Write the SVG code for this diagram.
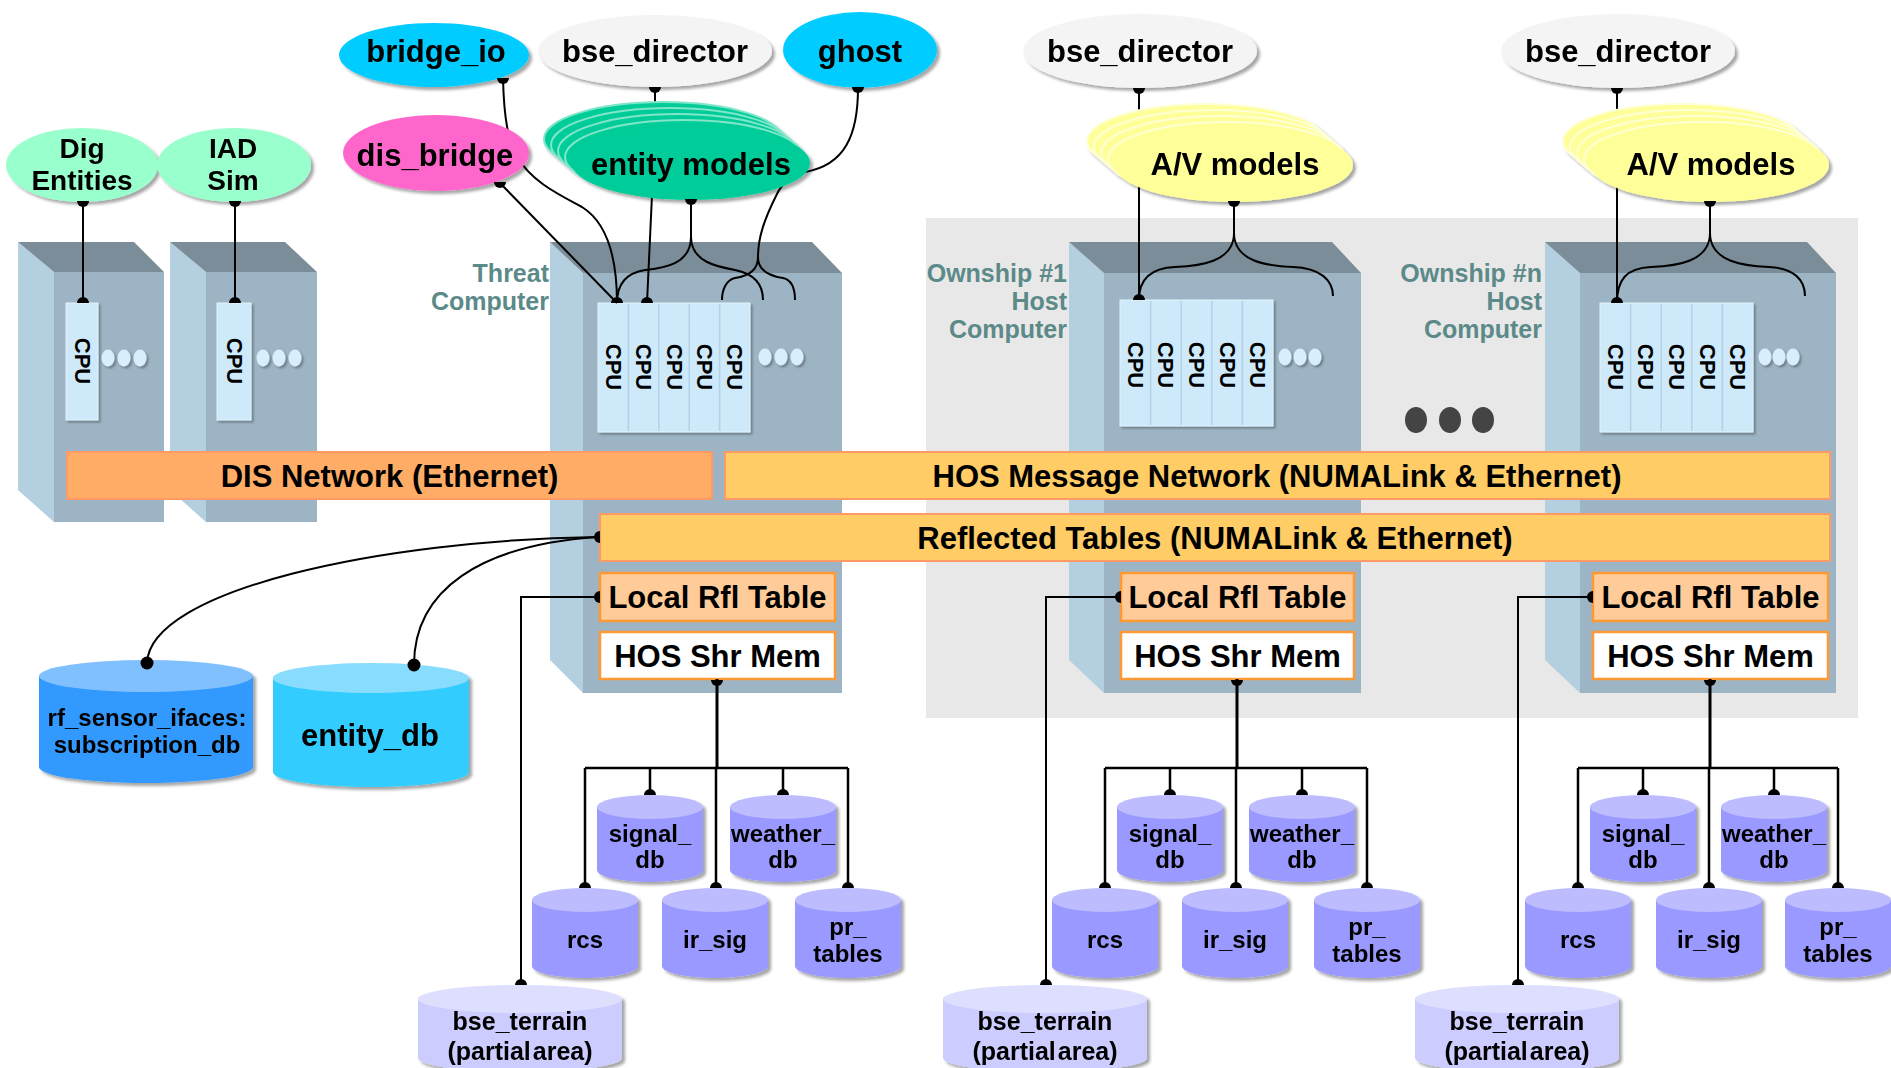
<svg xmlns="http://www.w3.org/2000/svg" width="1891" height="1068" viewBox="0 0 1891 1068">
<defs>
<filter id="ds" x="-10%" y="-10%" width="130%" height="140%"><feDropShadow dx="3" dy="3" stdDeviation="1.5" flood-color="#000" flood-opacity="0.35"/></filter>
<filter id="ds2" x="-10%" y="-10%" width="130%" height="130%"><feDropShadow dx="2" dy="2" stdDeviation="1" flood-color="#000" flood-opacity="0.3"/></filter>
</defs>
<style>
text{font-family:"Liberation Sans",Arial,sans-serif;font-weight:bold;text-anchor:middle;fill:#000}
.f31{font-size:31px}.f28{font-size:28px}.f25{font-size:25px}.f24{font-size:24px}.f22{font-size:22px}
.lbl{font-size:25px;fill:#5b8a89;text-anchor:end}
.tt{fill:#7b8d98}.tl{fill:#b3cfe0}.tf{fill:#9db4c4}
.cpu{fill:#cde9fa;stroke:#e4f3fc;stroke-width:1}
.sep{stroke:#b2d2e6;stroke-width:1.5}
.sd{fill:#d8eefc}
.bar1{fill:#ffad66;stroke:#ff9966;stroke-width:2}
.bar2{fill:#ffcc66;stroke:#ff9966;stroke-width:2}
.lrt{fill:#ffcc99;stroke:#ff9933;stroke-width:2.5}
.hsm{fill:#fff;stroke:#ff9933;stroke-width:2.5}
.c{fill:none;stroke:#000;stroke-width:2}
.c3{fill:none;stroke:#000;stroke-width:3}
.d{fill:#000}
.db{fill:#9999ff}.dbt{fill:#bcbcff}
.bt{fill:#ccccff}.btt{fill:#dedeff}
.em{fill:#00cc99;stroke:#7fe6c9;stroke-width:2}
.av{fill:#ffff99;stroke:#ffffd6;stroke-width:2}
</style>

<rect id="ownship_panel" x="926" y="218" width="932" height="500" fill="#e8e8e8"/>

<!-- towers -->
<g id="dig_computer">
<polygon class="tl" points="18,242 54,272 54,522 18,490"/>
<polygon class="tt" points="18,242 134,242 164,272 54,272"/>
<rect class="tf" x="54" y="272" width="110" height="250"/>
<rect class="cpu" x="66" y="303" width="32" height="117" filter="url(#ds2)"/>
<text class="f22" transform="translate(82,361) rotate(90)" dominant-baseline="central">CPU</text>
<g class="sd" filter="url(#ds2)"><ellipse cx="108" cy="358" rx="6.5" ry="8.5"/><ellipse cx="124" cy="358" rx="6.5" ry="8.5"/><ellipse cx="140" cy="358" rx="6.5" ry="8.5"/></g>
</g>
<g id="iad_computer">
<polygon class="tl" points="170,242 206,272 206,522 170,490"/>
<polygon class="tt" points="170,242 285,242 317,272 206,272"/>
<rect class="tf" x="206" y="272" width="111" height="250"/>
<rect class="cpu" x="217" y="303" width="34" height="117" filter="url(#ds2)"/>
<text class="f22" transform="translate(234,361) rotate(90)" dominant-baseline="central">CPU</text>
<g class="sd" filter="url(#ds2)"><ellipse cx="263" cy="358" rx="6.5" ry="8.5"/><ellipse cx="279" cy="358" rx="6.5" ry="8.5"/><ellipse cx="295" cy="358" rx="6.5" ry="8.5"/></g>
</g>
<g id="threat_computer">
<polygon class="tl" points="550,242 583,273 583,693 550,660"/>
<polygon class="tt" points="550,242 812,242 842,273 583,273"/>
<rect class="tf" x="583" y="273" width="259" height="420"/>
<rect class="cpu" x="598" y="303" width="152" height="129" filter="url(#ds2)"/>
<g class="sep"><line x1="628.4" y1="304" x2="628.4" y2="431"/><line x1="658.8" y1="304" x2="658.8" y2="431"/><line x1="689.2" y1="304" x2="689.2" y2="431"/><line x1="719.6" y1="304" x2="719.6" y2="431"/></g>
<g class="f22">
<text class="f22" transform="translate(613,367) rotate(90)" dominant-baseline="central">CPU</text>
<text class="f22" transform="translate(643.6,367) rotate(90)" dominant-baseline="central">CPU</text>
<text class="f22" transform="translate(674,367) rotate(90)" dominant-baseline="central">CPU</text>
<text class="f22" transform="translate(704.4,367) rotate(90)" dominant-baseline="central">CPU</text>
<text class="f22" transform="translate(734.8,367) rotate(90)" dominant-baseline="central">CPU</text>
</g>
<g class="sd" filter="url(#ds2)"><ellipse cx="765" cy="357" rx="6.5" ry="8.5"/><ellipse cx="781" cy="357" rx="6.5" ry="8.5"/><ellipse cx="797" cy="357" rx="6.5" ry="8.5"/></g>
<text class="lbl" x="549" y="282">Threat</text>
<text class="lbl" x="549" y="310">Computer</text>
</g>
<g id="ownship1_computer">
<polygon class="tl" points="1069,242 1104,273 1104,693 1069,660"/>
<polygon class="tt" points="1069,242 1332,242 1361,273 1104,273"/>
<rect class="tf" x="1104" y="273" width="257" height="420"/>
<rect class="cpu" x="1120" y="300" width="153" height="126" filter="url(#ds2)"/>
<g class="sep"><line x1="1150.6" y1="301" x2="1150.6" y2="425"/><line x1="1181.2" y1="301" x2="1181.2" y2="425"/><line x1="1211.8" y1="301" x2="1211.8" y2="425"/><line x1="1242.4" y1="301" x2="1242.4" y2="425"/></g>
<text class="f22" transform="translate(1135.3,365) rotate(90)" dominant-baseline="central">CPU</text>
<text class="f22" transform="translate(1165.9,365) rotate(90)" dominant-baseline="central">CPU</text>
<text class="f22" transform="translate(1196.5,365) rotate(90)" dominant-baseline="central">CPU</text>
<text class="f22" transform="translate(1227.1,365) rotate(90)" dominant-baseline="central">CPU</text>
<text class="f22" transform="translate(1257.7,365) rotate(90)" dominant-baseline="central">CPU</text>
<g class="sd" filter="url(#ds2)"><ellipse cx="1285" cy="357" rx="6.5" ry="8.5"/><ellipse cx="1300" cy="357" rx="6.5" ry="8.5"/><ellipse cx="1315" cy="357" rx="6.5" ry="8.5"/></g>
<text class="lbl" x="1067" y="282">Ownship #1</text>
<text class="lbl" x="1067" y="310">Host</text>
<text class="lbl" x="1067" y="338">Computer</text>
</g>
<g id="ownshipn_computer">
<polygon class="tl" points="1545,242 1580,273 1580,693 1545,660"/>
<polygon class="tt" points="1545,242 1807,242 1836,273 1580,273"/>
<rect class="tf" x="1580" y="273" width="256" height="420"/>
<rect class="cpu" x="1600" y="303" width="153" height="129" filter="url(#ds2)"/>
<g class="sep"><line x1="1630.6" y1="304" x2="1630.6" y2="431"/><line x1="1661.2" y1="304" x2="1661.2" y2="431"/><line x1="1691.8" y1="304" x2="1691.8" y2="431"/><line x1="1722.4" y1="304" x2="1722.4" y2="431"/></g>
<text class="f22" transform="translate(1615.3,367) rotate(90)" dominant-baseline="central">CPU</text>
<text class="f22" transform="translate(1645.9,367) rotate(90)" dominant-baseline="central">CPU</text>
<text class="f22" transform="translate(1676.5,367) rotate(90)" dominant-baseline="central">CPU</text>
<text class="f22" transform="translate(1707.1,367) rotate(90)" dominant-baseline="central">CPU</text>
<text class="f22" transform="translate(1737.7,367) rotate(90)" dominant-baseline="central">CPU</text>
<g class="sd" filter="url(#ds2)"><ellipse cx="1765" cy="357" rx="6.5" ry="8.5"/><ellipse cx="1779" cy="357" rx="6.5" ry="8.5"/><ellipse cx="1793" cy="357" rx="6.5" ry="8.5"/></g>
<text class="lbl" x="1542" y="282">Ownship #n</text>
<text class="lbl" x="1542" y="310">Host</text>
<text class="lbl" x="1542" y="338">Computer</text>
</g>
<g id="ellipsis_dots" fill="#444"><ellipse cx="1416" cy="420" rx="11" ry="13"/><ellipse cx="1450" cy="420" rx="11" ry="13"/><ellipse cx="1483" cy="420" rx="11" ry="13"/></g>

<!-- networks and tables -->
<g id="dis_network"><rect class="bar1" x="67" y="452" width="645" height="47"/><text class="f31" x="389.5" y="487">DIS Network (Ethernet)</text></g>
<g id="hos_message_network"><rect class="bar2" x="725" y="452" width="1105" height="47"/><text class="f31" x="1277" y="487">HOS Message Network (NUMALink &amp; Ethernet)</text></g>
<g id="reflected_tables"><rect class="bar2" x="600" y="514" width="1230" height="47"/><text class="f31" x="1215" y="549">Reflected Tables (NUMALink &amp; Ethernet)</text></g>
<g id="threat_local_rfl"><rect class="lrt" x="600" y="573" width="235" height="48"/><text class="f31" x="717.5" y="608">Local Rfl Table</text></g>
<g id="threat_hos_shr_mem"><rect class="hsm" x="600" y="632" width="235" height="47"/><text class="f31" x="717.5" y="667">HOS Shr Mem</text></g>
<g id="own1_local_rfl"><rect class="lrt" x="1121" y="573" width="233" height="48"/><text class="f31" x="1237.5" y="608">Local Rfl Table</text></g>
<g id="own1_hos_shr_mem"><rect class="hsm" x="1121" y="632" width="233" height="47"/><text class="f31" x="1237.5" y="667">HOS Shr Mem</text></g>
<g id="ownn_local_rfl"><rect class="lrt" x="1593" y="573" width="235" height="48"/><text class="f31" x="1710.5" y="608">Local Rfl Table</text></g>
<g id="ownn_hos_shr_mem"><rect class="hsm" x="1593" y="632" width="235" height="47"/><text class="f31" x="1710.5" y="667">HOS Shr Mem</text></g>

<!-- databases -->
<g id="rf_sensor_db" filter="url(#ds)"><path d="M39,676 V767 A107,16 0 0 0 253,767 V676 Z" fill="#3399ff"/><ellipse cx="146" cy="676" rx="107" ry="16" fill="#80c0ff"/><text class="f24" x="147" y="726">rf_sensor_ifaces:</text><text class="f24" x="147" y="753">subscription_db</text></g>
<g id="entity_db" filter="url(#ds)"><path d="M273,678 V772 A98,15 0 0 0 469,772 V678 Z" fill="#33ccff"/><ellipse cx="371" cy="678" rx="98" ry="15" fill="#88ddff"/><text class="f31" x="370" y="746">entity_db</text></g>

<g id="threat_signal_db" filter="url(#ds)"><path class="db" d="M597,807 V870 A53,12 0 0 0 703,870 V807 Z"/><ellipse class="dbt" cx="650" cy="807" rx="53" ry="12"/><text class="f24" x="650" y="842">signal_</text><text class="f24" x="650" y="868">db</text></g>
<g id="threat_weather_db" filter="url(#ds)"><path class="db" d="M730,807 V870 A53,12 0 0 0 836,870 V807 Z"/><ellipse class="dbt" cx="783" cy="807" rx="53" ry="12"/><text class="f24" x="783" y="842">weather_</text><text class="f24" x="783" y="868">db</text></g>
<g id="threat_rcs" filter="url(#ds)"><path class="db" d="M532,900 V966 A53,12 0 0 0 638,966 V900 Z"/><ellipse class="dbt" cx="585" cy="900" rx="53" ry="12"/><text class="f24" x="585" y="948">rcs</text></g>
<g id="threat_ir_sig" filter="url(#ds)"><path class="db" d="M662,900 V966 A53,12 0 0 0 768,966 V900 Z"/><ellipse class="dbt" cx="715" cy="900" rx="53" ry="12"/><text class="f24" x="715" y="948">ir_sig</text></g>
<g id="threat_pr_tables" filter="url(#ds)"><path class="db" d="M795,900 V966 A53,12 0 0 0 901,966 V900 Z"/><ellipse class="dbt" cx="848" cy="900" rx="53" ry="12"/><text class="f24" x="848" y="935">pr_</text><text class="f24" x="848" y="962">tables</text></g>
<g id="threat_bse_terrain" filter="url(#ds)"><path class="bt" d="M418,999 V1058 A102,14 0 0 0 622,1058 V999 Z"/><ellipse class="btt" cx="520" cy="999" rx="102" ry="14"/><text class="f25" x="520" y="1030">bse_terrain</text><text class="f25" x="520" y="1060" word-spacing="-5">(partial area)</text></g>

<g id="own1_signal_db" filter="url(#ds)"><path class="db" d="M1117,807 V870 A53,12 0 0 0 1223,870 V807 Z"/><ellipse class="dbt" cx="1170" cy="807" rx="53" ry="12"/><text class="f24" x="1170" y="842">signal_</text><text class="f24" x="1170" y="868">db</text></g>
<g id="own1_weather_db" filter="url(#ds)"><path class="db" d="M1249,807 V870 A53,12 0 0 0 1355,870 V807 Z"/><ellipse class="dbt" cx="1302" cy="807" rx="53" ry="12"/><text class="f24" x="1302" y="842">weather_</text><text class="f24" x="1302" y="868">db</text></g>
<g id="own1_rcs" filter="url(#ds)"><path class="db" d="M1052,900 V966 A53,12 0 0 0 1158,966 V900 Z"/><ellipse class="dbt" cx="1105" cy="900" rx="53" ry="12"/><text class="f24" x="1105" y="948">rcs</text></g>
<g id="own1_ir_sig" filter="url(#ds)"><path class="db" d="M1182,900 V966 A53,12 0 0 0 1288,966 V900 Z"/><ellipse class="dbt" cx="1235" cy="900" rx="53" ry="12"/><text class="f24" x="1235" y="948">ir_sig</text></g>
<g id="own1_pr_tables" filter="url(#ds)"><path class="db" d="M1314,900 V966 A53,12 0 0 0 1420,966 V900 Z"/><ellipse class="dbt" cx="1367" cy="900" rx="53" ry="12"/><text class="f24" x="1367" y="935">pr_</text><text class="f24" x="1367" y="962">tables</text></g>
<g id="own1_bse_terrain" filter="url(#ds)"><path class="bt" d="M943,999 V1058 A102,14 0 0 0 1147,1058 V999 Z"/><ellipse class="btt" cx="1045" cy="999" rx="102" ry="14"/><text class="f25" x="1045" y="1030">bse_terrain</text><text class="f25" x="1045" y="1060" word-spacing="-5">(partial area)</text></g>

<g id="ownn_signal_db" filter="url(#ds)"><path class="db" d="M1590,807 V870 A53,12 0 0 0 1696,870 V807 Z"/><ellipse class="dbt" cx="1643" cy="807" rx="53" ry="12"/><text class="f24" x="1643" y="842">signal_</text><text class="f24" x="1643" y="868">db</text></g>
<g id="ownn_weather_db" filter="url(#ds)"><path class="db" d="M1721,807 V870 A53,12 0 0 0 1827,870 V807 Z"/><ellipse class="dbt" cx="1774" cy="807" rx="53" ry="12"/><text class="f24" x="1774" y="842">weather_</text><text class="f24" x="1774" y="868">db</text></g>
<g id="ownn_rcs" filter="url(#ds)"><path class="db" d="M1525,900 V966 A53,12 0 0 0 1631,966 V900 Z"/><ellipse class="dbt" cx="1578" cy="900" rx="53" ry="12"/><text class="f24" x="1578" y="948">rcs</text></g>
<g id="ownn_ir_sig" filter="url(#ds)"><path class="db" d="M1656,900 V966 A53,12 0 0 0 1762,966 V900 Z"/><ellipse class="dbt" cx="1709" cy="900" rx="53" ry="12"/><text class="f24" x="1709" y="948">ir_sig</text></g>
<g id="ownn_pr_tables" filter="url(#ds)"><path class="db" d="M1785,900 V966 A53,12 0 0 0 1891,966 V900 Z"/><ellipse class="dbt" cx="1838" cy="900" rx="53" ry="12"/><text class="f24" x="1838" y="935">pr_</text><text class="f24" x="1838" y="962">tables</text></g>
<g id="ownn_bse_terrain" filter="url(#ds)"><path class="bt" d="M1415,999 V1058 A102,14 0 0 0 1619,1058 V999 Z"/><ellipse class="btt" cx="1517" cy="999" rx="102" ry="14"/><text class="f25" x="1517" y="1030">bse_terrain</text><text class="f25" x="1517" y="1060" word-spacing="-5">(partial area)</text></g>

<!-- connectors -->
<g id="connectors">
<path class="c" d="M83,205 V303"/>
<path class="c" d="M235,205 V303"/>
<path class="c" d="M503,78 C504,120 508,140 518,158 C532,182 560,195 582,207 C606,222 617,255 617,303"/>
<path class="c" d="M500,183 L617,303"/>
<path class="c" d="M652,195 L647,303"/>
<path class="c" d="M655,88 V112"/>
<path class="c" d="M691,200 V237 M691,237 C691,265 662,268 645,270 C626,273 617,285 617,303 M691,237 C691,262 718,267 735,270 C755,274 763,285 763,300"/>
<path class="c" d="M858,88 C858,135 845,165 805,172 C790,176 782,183 776,196 C764,220 758,238 758,257 M758,257 C758,274 742,277 735,278 C726,280 722,290 722,300 M758,257 C758,274 776,277 783,278 C792,280 795,290 795,300"/>
<path class="c" d="M1139,88 V300"/>
<path class="c" d="M1234,200 V233 M1234,233 C1234,262 1200,266 1175,267 C1150,268 1139,280 1139,300 M1234,233 C1234,262 1268,266 1293,267 C1320,268 1333,280 1333,296"/>
<path class="c" d="M1617,88 V303"/>
<path class="c" d="M1710,200 V233 M1710,233 C1710,262 1676,266 1651,267 C1626,268 1617,280 1617,303 M1710,233 C1710,262 1744,266 1769,267 C1794,268 1805,280 1805,296"/>
<path class="c" d="M598,537 C380,540 150,590 147,663"/>
<path class="c" d="M598,537 C480,545 414,590 414,665"/>
<path class="c" d="M600,597 H521 V985"/>
<path class="c" d="M1121,597 H1046 V985"/>
<path class="c" d="M1593,597 H1518 V985"/>
<path class="c3" d="M717,679 V768"/>
<path class="c" style="stroke-width:2.5" d="M585,768 H848 M585,768 V888 M650,768 V795 M783,768 V795 M848,768 V888 M716,768 V888"/>
<path class="c3" d="M1237,679 V768"/>
<path class="c" style="stroke-width:2.5" d="M1105,768 H1367 M1105,768 V888 M1170,768 V795 M1302,768 V795 M1367,768 V888 M1236,768 V888"/>
<path class="c3" d="M1710,679 V768"/>
<path class="c" style="stroke-width:2.5" d="M1578,768 H1838 M1578,768 V888 M1643,768 V795 M1774,768 V795 M1838,768 V888 M1709,768 V888"/>
</g>

<!-- ellipse nodes -->
<g id="dig_entities" filter="url(#ds)"><ellipse cx="82" cy="165" rx="76" ry="37" fill="#99ffcc"/><text class="f28" x="82" y="158">Dig</text><text class="f28" x="82" y="190">Entities</text></g>
<g id="iad_sim" filter="url(#ds)"><ellipse cx="234" cy="165" rx="77" ry="37" fill="#99ffcc"/><text class="f28" x="233" y="158">IAD</text><text class="f28" x="233" y="190">Sim</text></g>
<g id="bridge_io" filter="url(#ds)"><ellipse cx="434" cy="55" rx="95" ry="32" fill="#00ccff"/><text class="f31" x="436" y="62">bridge_io</text></g>
<g id="bse_director_threat" filter="url(#ds)"><ellipse cx="655" cy="51" rx="117" ry="36" fill="#f4f4f4"/><text class="f31" x="655" y="62">bse_director</text></g>
<g id="ghost" filter="url(#ds)"><ellipse cx="860" cy="50" rx="77" ry="38" fill="#00ccff"/><text class="f31" x="860" y="62">ghost</text></g>
<g id="dis_bridge" filter="url(#ds)"><ellipse cx="436" cy="153" rx="93" ry="38" fill="#ff66cc"/><text class="f31" x="435" y="166">dis_bridge</text></g>
<g id="entity_models" filter="url(#ds)">
<ellipse class="em" cx="663" cy="139" rx="119" ry="37"/>
<ellipse class="em" cx="670" cy="145" rx="119" ry="37"/>
<ellipse class="em" cx="677" cy="151" rx="119" ry="37"/>
<ellipse class="em" cx="684" cy="157" rx="119" ry="37"/>
<ellipse cx="691" cy="163" rx="119" ry="37" fill="#00cc99"/>
<text class="f31" x="691" y="175">entity models</text>
</g>
<g id="bse_director_own1" filter="url(#ds)"><ellipse cx="1140" cy="51" rx="117" ry="37" fill="#f4f4f4"/><text class="f31" x="1140" y="62">bse_director</text></g>
<g id="av_models_own1" filter="url(#ds)">
<ellipse class="av" cx="1206" cy="141" rx="119" ry="37"/>
<ellipse class="av" cx="1213" cy="147" rx="119" ry="37"/>
<ellipse class="av" cx="1220" cy="153" rx="119" ry="37"/>
<ellipse class="av" cx="1227" cy="159" rx="119" ry="37"/>
<ellipse cx="1234" cy="165" rx="119" ry="37" fill="#ffff99"/>
<text class="f31" x="1235" y="175">A/V models</text>
</g>
<g id="bse_director_ownn" filter="url(#ds)"><ellipse cx="1618" cy="51" rx="117" ry="37" fill="#f4f4f4"/><text class="f31" x="1618" y="62">bse_director</text></g>
<g id="av_models_ownn" filter="url(#ds)">
<ellipse class="av" cx="1682" cy="141" rx="119" ry="37"/>
<ellipse class="av" cx="1689" cy="147" rx="119" ry="37"/>
<ellipse class="av" cx="1696" cy="153" rx="119" ry="37"/>
<ellipse class="av" cx="1703" cy="159" rx="119" ry="37"/>
<ellipse cx="1710" cy="165" rx="119" ry="37" fill="#ffff99"/>
<text class="f31" x="1711" y="175">A/V models</text>
</g>

<!-- connector ends -->
<g id="connector-ends" class="d">
<path d="M77,201 A6,6 0 0 0 89,201 Z"/>
<path d="M229,201 A6,6 0 0 0 241,201 Z"/>
<path d="M77,303 A6,6 0 0 1 89,303 Z"/>
<path d="M229,303 A6,6 0 0 1 241,303 Z"/>
<path d="M497,78 A6,6 0 0 0 509,78 Z"/>
<path d="M494,182 A6,6 0 0 0 506,182 Z"/>
<path d="M649,87 A6,6 0 0 0 661,87 Z"/>
<path d="M685,199 A6,6 0 0 0 697,199 Z"/>
<path d="M852,87 A6,6 0 0 0 864,87 Z"/>
<path d="M611,303 A6,6 0 0 1 623,303 Z"/>
<path d="M641,303 A6,6 0 0 1 653,303 Z"/>
<path d="M1133,88 A6,6 0 0 0 1145,88 Z"/>
<path d="M1611,88 A6,6 0 0 0 1623,88 Z"/>
<path d="M1228,201 A6,6 0 0 0 1240,201 Z"/>
<path d="M1704,201 A6,6 0 0 0 1716,201 Z"/>
<path d="M1133,300 A6,6 0 0 1 1145,300 Z"/>
<path d="M1611,303 A6,6 0 0 1 1623,303 Z"/>
<path d="M600,531 A6,6 0 0 0 600,543 Z"/>
<path d="M600,591 A6,6 0 0 0 600,603 Z"/>
<path d="M1121,591 A6,6 0 0 0 1121,603 Z"/>
<path d="M1593,591 A6,6 0 0 0 1593,603 Z"/>
<path d="M515,985 A6,6 0 0 1 527,985 Z"/>
<path d="M1040,985 A6,6 0 0 1 1052,985 Z"/>
<path d="M1512,985 A6,6 0 0 1 1524,985 Z"/>
<path d="M711,680 A6,6 0 0 0 723,680 Z"/>
<path d="M1231,680 A6,6 0 0 0 1243,680 Z"/>
<path d="M1704,680 A6,6 0 0 0 1716,680 Z"/>
<path d="M579,888 A6,6 0 0 1 591,888 Z M644,795 A6,6 0 0 1 656,795 Z M777,795 A6,6 0 0 1 789,795 Z M842,888 A6,6 0 0 1 854,888 Z M710,888 A6,6 0 0 1 722,888 Z"/>
<path d="M1099,888 A6,6 0 0 1 1111,888 Z M1164,795 A6,6 0 0 1 1176,795 Z M1296,795 A6,6 0 0 1 1308,795 Z M1361,888 A6,6 0 0 1 1373,888 Z M1230,888 A6,6 0 0 1 1242,888 Z"/>
<path d="M1572,888 A6,6 0 0 1 1584,888 Z M1637,795 A6,6 0 0 1 1649,795 Z M1768,795 A6,6 0 0 1 1780,795 Z M1832,888 A6,6 0 0 1 1844,888 Z M1703,888 A6,6 0 0 1 1715,888 Z"/>
<circle cx="147" cy="663" r="6.5"/>
<circle cx="414" cy="665" r="6.5"/>
</g>
</svg>
